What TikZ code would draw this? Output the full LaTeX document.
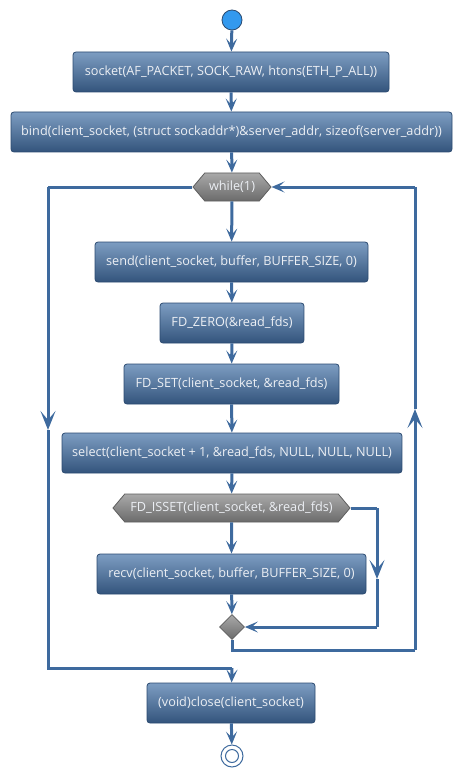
\documentclass[tikz,border=0pt]{standalone}
\usepackage{fontspec}
\setmainfont{Open Sans}
\usetikzlibrary{shapes.symbols,shapes.geometric,arrows.meta}
\definecolor{edgec}{HTML}{3E6A9E}
\definecolor{boxtop}{HTML}{7D9DC2}
\definecolor{boxbot}{HTML}{33547C}
\definecolor{boxline}{HTML}{2B4A70}
\definecolor{hextop}{HTML}{A9A9A9}
\definecolor{hexbot}{HTML}{6B6B6B}
\definecolor{hexline}{HTML}{5E5E5E}
\definecolor{startc}{HTML}{3399EE}
\definecolor{txtc}{HTML}{ECEFF4}
\begin{document}
\begin{tikzpicture}[x=1pt,y=-1pt,
  actbox/.style={draw=boxline,line width=0.8pt,rounded corners=3pt,top color=boxtop,bottom color=boxbot,
    text=txtc,minimum height=40pt,inner sep=0pt,font=\fontsize{12.7}{15}\selectfont},
  hexbox/.style={shape=signal,signal to=west and east,signal pointer angle=100,draw=hexline,line width=0.8pt,
    top color=hextop,bottom color=hexbot,text=txtc,minimum height=28pt,inner sep=0pt,font=\fontsize{12.7}{15}\selectfont},
  mergebox/.style={shape=diamond,draw=hexline,line width=0.8pt,top color=hextop,bottom color=hexbot,minimum size=25pt,inner sep=0pt},
  flow/.style={draw=edgec,line width=3pt},
  arr/.style={flow,-{Stealth[length=13pt,width=11pt,inset=6pt]}},
  midarr/.style={flow,-{Stealth[length=19pt,width=15pt,inset=9pt]}}
]
\useasboundingbox (0,0) rectangle (462,778);
\node[circle,fill=startc,draw=boxline,line width=0.8pt,minimum size=20pt,inner sep=0pt] (start) at (232,20) {};
\node[actbox,minimum width=316pt] (socket) at (231,72) {socket(AF\_PACKET, SOCK\_RAW, htons(ETH\_P\_ALL))};
\node[actbox,minimum width=441pt] (bind) at (231.5,132) {bind(client\_socket, (struct sockaddr*)\&server\_addr, sizeof(server\_addr))};
\node[hexbox,minimum width=78pt] (while) at (232,187) {while(1)};
\node[actbox,minimum width=273pt] (send) at (231.5,262) {send(client\_socket, buffer, BUFFER\_SIZE, 0)};
\node[actbox,minimum width=144pt] (fdzero) at (232,323) {FD\_ZERO(\&read\_fds)};
\node[actbox,minimum width=215pt] (fdset) at (231.5,384) {FD\_SET(client\_socket, \&read\_fds)};
\node[actbox,minimum width=340pt] (select) at (232,453) {select(client\_socket + 1, \&read\_fds, NULL, NULL, NULL)};
\node[hexbox,minimum width=237pt] (fdisset) at (231.5,508) {FD\_ISSET(client\_socket, \&read\_fds)};
\node[actbox,minimum width=269pt] (recv) at (231.5,574) {recv(client\_socket, buffer, BUFFER\_SIZE, 0)};
\node[mergebox] (merge) at (232,627) {};
\node[actbox,minimum width=168pt] (close) at (231,703) {(void)close(client\_socket)};
\node[circle,draw=edgec,line width=1pt,fill=white,minimum size=22pt,inner sep=0pt] (stop) at (232,756) {};
\node[circle,draw=edgec,line width=1pt,minimum size=13pt,inner sep=0pt] (stopin) at (232,756) {};

\draw[arr] (start) -- (socket);
\draw[arr] (socket) -- (bind);
\draw[arr] (bind) -- (while);
\draw[arr] (while) -- (send);
\draw[arr] (send) -- (fdzero);
\draw[arr] (fdzero) -- (fdset);
\draw[arr] (fdset) -- (select);
\draw[arr] (select) -- (fdisset);
\draw[arr] (fdisset) -- (recv);
\draw[arr] (recv) -- (merge);
\draw[arr] (close) -- (stop);

% FD_ISSET false branch
\coordinate (b1) at (377,508);
\coordinate (b2) at (377,579);
\coordinate (b3) at (377,627);
\draw[flow] (fdisset.east) -- (b1);
\draw[midarr] (b1) -- (b2);
\draw[flow] (b2) -- (b3);
\draw[arr] (b3) -- (merge.east);

% loop back
\coordinate (r1) at (232,650);
\coordinate (r2) at (415,650);
\coordinate (r3) at (415,409);
\coordinate (r4) at (415,187);
\draw[flow] (merge.south) -- (r1) -- (r2);
\draw[midarr] (r2) -- (r3);
\draw[flow] (r3) -- (r4);
\draw[arr] (r4) -- (while.east);

% exit
\coordinate (l1) at (48,187);
\coordinate (l2) at (48,430);
\coordinate (l3) at (48,668);
\coordinate (l4) at (232,668);
\draw[flow] (while.west) -- (l1);
\draw[midarr] (l1) -- (l2);
\draw[flow] (l2) -- (l3) -- (l4);
\draw[arr] (l4) -- (close);
\end{tikzpicture}
\end{document}
